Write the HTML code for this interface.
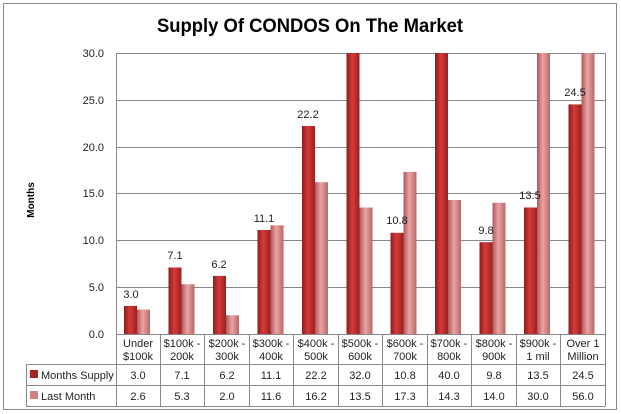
<!DOCTYPE html>
<html><head><meta charset="utf-8"><style>body{margin:0;background:#fff}svg{display:block}text{font-family:"Liberation Sans",sans-serif}</style></head><body>
<svg width="621" height="414" xmlns="http://www.w3.org/2000/svg">
<defs>
<linearGradient id="d" x1="0" x2="1"><stop offset="0" stop-color="#8e1c1c"/><stop offset="0.45" stop-color="#d63a3a"/><stop offset="1" stop-color="#9a2020"/></linearGradient>
<linearGradient id="l" x1="0" x2="1"><stop offset="0" stop-color="#b05858"/><stop offset="0.45" stop-color="#eba3a3"/><stop offset="1" stop-color="#b86868"/></linearGradient>
</defs>
<rect x="3.5" y="3.5" width="613" height="406" fill="#fff" stroke="#888"/>
<text x="157" y="32" font-size="19" font-weight="bold" textLength="306" lengthAdjust="spacingAndGlyphs">Supply Of CONDOS On The Market</text>
<text transform="translate(34,200) rotate(-90)" font-size="10" font-weight="bold" text-anchor="middle">Months</text>
<g stroke="#888" stroke-width="1">
<line x1="116" x2="605" y1="53.5" y2="53.5"/><line x1="116" x2="605" y1="100.5" y2="100.5"/><line x1="116" x2="605" y1="147.5" y2="147.5"/><line x1="116" x2="605" y1="193.5" y2="193.5"/><line x1="116" x2="605" y1="240.5" y2="240.5"/><line x1="116" x2="605" y1="287.5" y2="287.5"/>
<line x1="116.5" x2="116.5" y1="53" y2="406"/>
</g>
<g font-size="11" text-anchor="end" fill="#222">
<text x="104" y="57">30.0</text><text x="104" y="104">25.0</text><text x="104" y="151">20.0</text><text x="104" y="197">15.0</text><text x="104" y="244">10.0</text><text x="104" y="291">5.0</text><text x="104" y="338">0.0</text>
</g>
<g fill="url(#d)">
<rect x="124" y="305.9" width="13" height="28.1"/><rect x="168.5" y="267.5" width="13" height="66.5"/><rect x="213" y="275.9" width="13" height="58.1"/><rect x="257.5" y="230" width="13" height="104"/><rect x="302" y="126" width="13" height="208"/><rect x="346.5" y="53" width="13" height="281"/><rect x="390.5" y="232.8" width="13" height="101.2"/><rect x="435" y="53" width="13" height="281"/><rect x="479.5" y="242.2" width="13" height="91.8"/><rect x="524" y="207.5" width="13" height="126.5"/><rect x="568.5" y="104.4" width="13" height="229.6"/>
</g>
<g fill="url(#l)">
<rect x="137" y="309.6" width="13" height="24.4"/><rect x="181.5" y="284.3" width="13" height="49.7"/><rect x="226" y="315.3" width="13" height="18.7"/><rect x="270.5" y="225.3" width="13" height="108.7"/><rect x="315" y="182.2" width="13" height="151.8"/><rect x="359.5" y="207.5" width="13" height="126.5"/><rect x="403.5" y="171.9" width="13" height="162.1"/><rect x="448" y="200" width="13" height="134"/><rect x="492.5" y="202.8" width="13" height="131.2"/><rect x="537" y="53" width="13" height="281"/><rect x="581.5" y="53" width="13" height="281"/>
</g>
<g font-size="11" text-anchor="middle" fill="#222">
<text x="131" y="298">3.0</text><text x="175" y="259">7.1</text><text x="219" y="268">6.2</text><text x="264" y="222">11.1</text><text x="308" y="118">22.2</text><text x="397" y="224">10.8</text><text x="486" y="234">9.8</text><text x="530" y="199">13.5</text><text x="575" y="96">24.5</text>
</g>
<g stroke="#888" stroke-width="1">
<line x1="116" x2="605" y1="334.5" y2="334.5"/>
<line x1="26" x2="605" y1="364.5" y2="364.5"/><line x1="26" x2="605" y1="385.5" y2="385.5"/><line x1="26" x2="605" y1="406.5" y2="406.5"/>
<line x1="26.5" x2="26.5" y1="364" y2="406"/>
<line x1="160.5" x2="160.5" y1="334" y2="406"/><line x1="204.5" x2="204.5" y1="334" y2="406"/><line x1="249.5" x2="249.5" y1="334" y2="406"/><line x1="293.5" x2="293.5" y1="334" y2="406"/><line x1="338.5" x2="338.5" y1="334" y2="406"/><line x1="382.5" x2="382.5" y1="334" y2="406"/><line x1="427.5" x2="427.5" y1="334" y2="406"/><line x1="471.5" x2="471.5" y1="334" y2="406"/><line x1="516.5" x2="516.5" y1="334" y2="406"/><line x1="560.5" x2="560.5" y1="334" y2="406"/><line x1="605.5" x2="605.5" y1="53" y2="406"/>
</g>
<g font-size="11" text-anchor="middle" fill="#222">
<text x="138" y="347">Under</text><text x="138" y="360">$100k</text>
<text x="182" y="347">$100k -</text><text x="182" y="360">200k</text>
<text x="227" y="347">$200k -</text><text x="227" y="360">300k</text>
<text x="271" y="347">$300k -</text><text x="271" y="360">400k</text>
<text x="316" y="347">$400k -</text><text x="316" y="360">500k</text>
<text x="360" y="347">$500k -</text><text x="360" y="360">600k</text>
<text x="405" y="347">$600k -</text><text x="405" y="360">700k</text>
<text x="449" y="347">$700k -</text><text x="449" y="360">800k</text>
<text x="494" y="347">$800k -</text><text x="494" y="360">900k</text>
<text x="538" y="347">$900k -</text><text x="538" y="360">1 mil</text>
<text x="583" y="347">Over 1</text><text x="583" y="360">Million</text>
<text x="138" y="379">3.0</text><text x="182" y="379">7.1</text><text x="227" y="379">6.2</text><text x="271" y="379">11.1</text><text x="316" y="379">22.2</text><text x="360" y="379">32.0</text><text x="405" y="379">10.8</text><text x="449" y="379">40.0</text><text x="494" y="379">9.8</text><text x="538" y="379">13.5</text><text x="583" y="379">24.5</text>
<text x="138" y="400">2.6</text><text x="182" y="400">5.3</text><text x="227" y="400">2.0</text><text x="271" y="400">11.6</text><text x="316" y="400">16.2</text><text x="360" y="400">13.5</text><text x="405" y="400">17.3</text><text x="449" y="400">14.3</text><text x="494" y="400">14.0</text><text x="538" y="400">30.0</text><text x="583" y="400">56.0</text>
</g>
<rect x="30" y="370" width="8" height="8" fill="#a82424"/>
<rect x="30" y="391" width="8" height="8" fill="#cf8080"/>
<g font-size="11" fill="#222"><text x="41" y="379">Months Supply</text><text x="41" y="400">Last Month</text></g>
</svg>
</body></html>
